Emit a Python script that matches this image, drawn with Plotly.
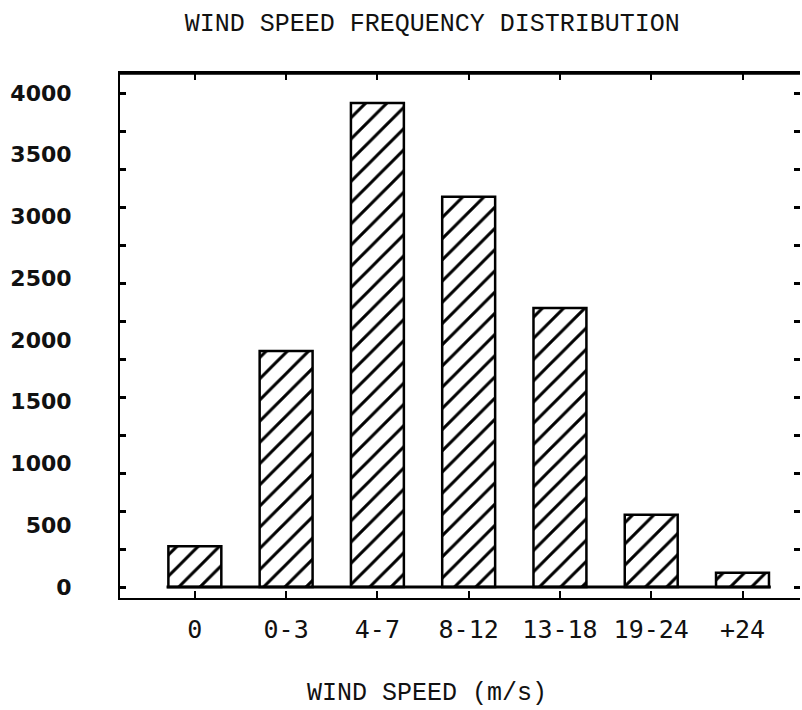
import plotly.graph_objects as go

categories = ["0", "0-3", "4-7", "8-12", "13-18", "19-24", "+24"]
counts = [330, 1910, 3920, 3160, 2260, 585, 115]
y_tick_values = [0, 500, 1000, 1500, 2000, 2500, 3000, 3500, 4000]
y_tick_labels = ["0", "500", "1000", "1500", "2000", "2500", "3000", "3500", "4000"]
frame_tick_values = [4000 * i / 13 for i in range(14)]

mono = "Liberation Mono"
fig = go.Figure()
fig.add_trace(go.Bar(
    x=list(range(len(categories))), y=counts, width=0.58,
    marker=dict(color="white", line=dict(color="black", width=2.5),
                pattern=dict(shape="/", fgcolor="black", bgcolor="white",
                             fgopacity=1, size=15, solidity=0.2)),
    showlegend=False,
))
# invisible trace to anchor right-hand tick axis
fig.add_trace(go.Scatter(x=[0], y=[0], yaxis="y2", mode="markers",
                         marker=dict(opacity=0), showlegend=False, hoverinfo="skip"))

fig.update_layout(
    width=802, height=710,
    margin=dict(l=120, r=2, t=73, b=112),
    paper_bgcolor="white", plot_bgcolor="white",
    title=dict(text="WIND SPEED FREQUENCY DISTRIBUTION", x=0.539, xanchor="center",
               y=1 - 22 / 710, yanchor="middle", yref="container",
               font=dict(family=mono, size=25, color="#111")),
    xaxis=dict(range=[-0.82, 6.63], tickmode="array", tickvals=list(range(len(categories))),
               ticktext=categories, showgrid=False, zeroline=False,
               showline=True, linecolor="black", linewidth=1.5, mirror="ticks",
               ticks="inside", ticklen=7, tickwidth=2, tickcolor="black",
               ticklabelstandoff=8,
               tickfont=dict(family="DejaVu Sans Mono", size=25, color="#111")),
    yaxis=dict(range=[-89, 4162], tickmode="array", tickvals=y_tick_values,
               ticktext=y_tick_labels, showgrid=False, zeroline=False,
               showline=True, linecolor="black", linewidth=2, ticks="",
               ticklabelstandoff=42,
               tickfont=dict(family="DejaVu Sans", size=22, color="#111", weight="bold")),
    yaxis2=dict(range=[-89, 4162], overlaying="y", side="right", tickmode="array",
                tickvals=frame_tick_values, showticklabels=False, showgrid=False,
                zeroline=False, showline=False, mirror="ticks",
                ticks="inside", ticklen=6, tickwidth=2.5, tickcolor="black"),
    shapes=[
        dict(type="line", xref="paper", yref="paper", x0=0, x1=1, y0=1, y1=1,
             line=dict(color="black", width=3.5)),
        dict(type="line", xref="x", yref="y", x0=-0.31, x1=6.31, y0=0, y1=0,
             line=dict(color="black", width=3)),
    ],
    annotations=[
        dict(text="WIND SPEED (m/s)", xref="paper", yref="paper",
             x=(427 - 120) / 680, y=-(693 - 598) / 525, xanchor="center", yanchor="middle",
             showarrow=False, font=dict(family=mono, size=25, color="#111")),
    ],
)
fig.write_html("out.html", config={"displayModeBar": False},
               post_script="document.body.style.margin='0';document.body.style.overflow='hidden';")
